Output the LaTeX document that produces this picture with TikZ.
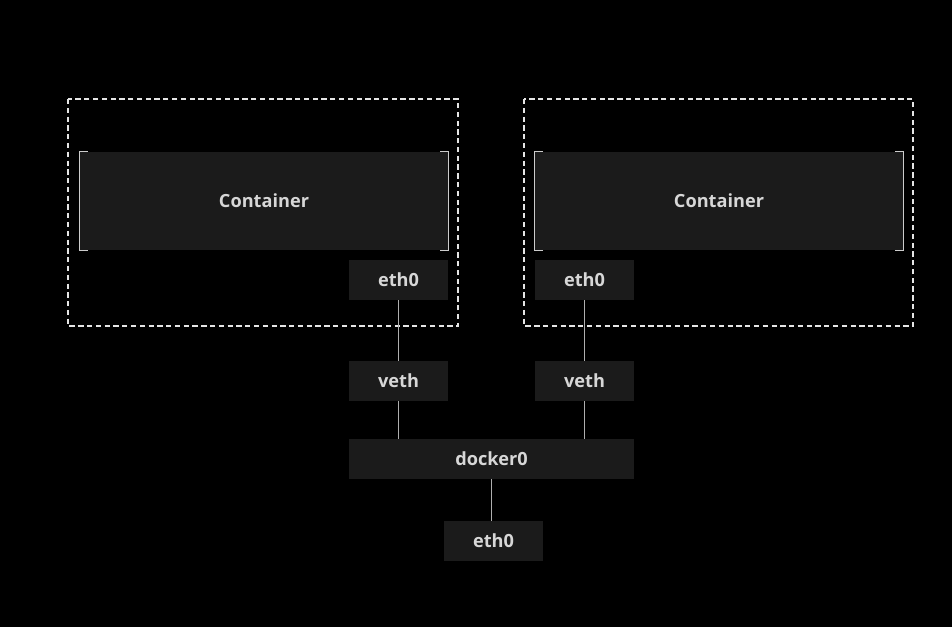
\documentclass[tikz,border=0pt]{standalone}
\usepackage{fontspec}
\setmainfont{Open Sans}
\usepackage{tikz}
\usepackage{xcolor}
\usetikzlibrary{positioning,calc}
\definecolor{boxgray}{RGB}{27,27,27}
\definecolor{textgray}{RGB}{215,215,215}
\definecolor{linegray}{RGB}{175,175,175}

\begin{document}
\begin{tikzpicture}[x=0.03cm,y=-0.03cm]
    % Define node styles
    \tikzstyle{iface} = [rectangle, fill=boxgray, text=textgray, font=\fontsize{15.5}{18}\selectfont\bfseries, inner sep=0pt, minimum width=2.97cm, minimum height=1.2cm]
    \tikzstyle{bridge} = [iface, minimum width=8.55cm]
    \tikzstyle{container} = [iface, minimum width=11.04cm, minimum height=2.94cm]
    \tikzstyle{bracket} = [draw=white!80!black, line width=1.1pt]
    \tikzstyle{namespace} = [draw=white!90!black, line width=1.1pt, dash pattern=on 4.5pt off 3pt]
    \tikzstyle{link} = [draw=linegray, line width=1.1pt]

    % Background
    \fill[black] (0,0) rectangle (952,627);
    \useasboundingbox (0,0) rectangle (952,627);

    % Namespaces
    \draw[namespace] (68,99) rectangle (458,326);
    \draw[namespace] (524,99) rectangle (913,326);

    % Containers
    \node[container] (cont1) at (264,201) {Container};
    \node[container] (cont2) at (719,201) {Container};
    \draw[bracket] ($(cont1.north west)+(8,0)$) -- (cont1.north west) -- (cont1.south west) -- ++(8,0);
    \draw[bracket] ($(cont1.north east)+(-8,0)$) -- (cont1.north east) -- (cont1.south east) -- ++(-8,0);
    \draw[bracket] ($(cont2.north west)+(8,0)$) -- (cont2.north west) -- (cont2.south west) -- ++(8,0);
    \draw[bracket] ($(cont2.north east)+(-8,0)$) -- (cont2.north east) -- (cont2.south east) -- ++(-8,0);

    % Interfaces
    \node[iface] (eth1) at (398.5,280) {eth0};
    \node[iface] (eth2) at (584.5,280) {eth0};
    \node[iface] (veth1) at (398.5,381) {veth};
    \node[iface] (veth2) at (584.5,381) {veth};
    \node[bridge] (docker) at (491.5,459) {docker0};
    \node[iface] (host) at (493.5,541) {eth0};

    % Links
    \draw[link] (eth1) -- (veth1);
    \draw[link] (eth2) -- (veth2);
    \draw[link] (veth1) -- (veth1 |- docker.north);
    \draw[link] (veth2) -- (veth2 |- docker.north);
    \draw[link] (docker.south) -- (docker.south |- host.north);

\end{tikzpicture}
\end{document}
